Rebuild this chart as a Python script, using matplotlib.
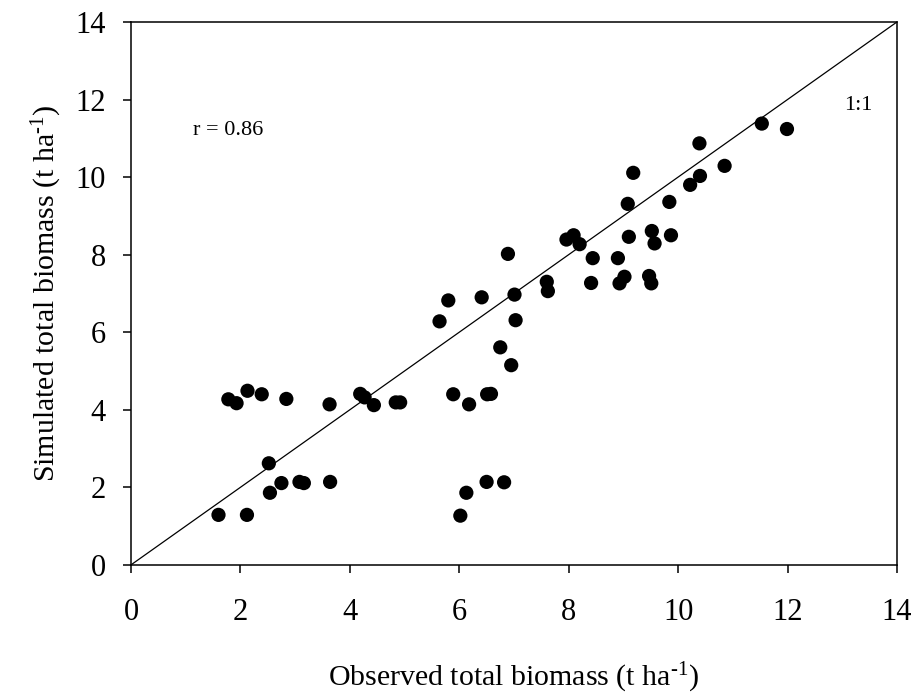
import matplotlib
matplotlib.use("Agg")
import matplotlib.pyplot as plt

plt.rcParams['font.family'] = ['Liberation Serif', 'DejaVu Serif']
plt.rcParams['mathtext.fontset'] = 'custom'
plt.rcParams['mathtext.rm'] = 'Liberation Serif'
plt.rcParams['mathtext.default'] = 'regular'
plt.rcParams['axes.unicode_minus'] = False

observed = [1.60, 2.12, 2.54, 2.52, 2.75, 3.08, 3.16, 3.64, 1.78, 1.93,
            2.13, 2.39, 2.84, 3.63, 4.19, 4.27, 4.44, 4.84, 4.92, 5.89,
            6.18, 6.51, 6.58, 6.75, 6.95, 5.64, 5.80, 6.41, 7.01, 7.03,
            6.89, 7.60, 7.62, 6.02, 6.13, 6.50, 6.82, 10.39, 10.85, 10.40,
            10.22, 9.18, 9.08, 9.84, 9.10, 9.52, 9.57, 9.87, 7.96, 8.09,
            8.20, 8.44, 8.90, 8.41, 8.93, 9.02, 9.47, 9.51, 11.53, 11.99]
simulated = [1.29, 1.29, 1.86, 2.62, 2.11, 2.14, 2.11, 2.14, 4.27, 4.17,
             4.49, 4.40, 4.28, 4.14, 4.41, 4.32, 4.12, 4.19, 4.19, 4.40,
             4.14, 4.40, 4.41, 5.61, 5.15, 6.28, 6.82, 6.90, 6.97, 6.31,
             8.02, 7.30, 7.06, 1.27, 1.86, 2.14, 2.13, 10.87, 10.29, 10.03,
             9.80, 10.11, 9.31, 9.36, 8.46, 8.61, 8.29, 8.50, 8.39, 8.50,
             8.27, 7.91, 7.91, 7.27, 7.26, 7.43, 7.45, 7.26, 11.38, 11.24]
ticks = [0, 2, 4, 6, 8, 10, 12, 14]
one_to_one = [0, 14]

fig = plt.figure(figsize=(9.19, 7.0), dpi=100)
ax = fig.add_axes([0.1425, 0.193, 0.8335, 0.7756])

ax.plot(one_to_one, one_to_one, color='black', linewidth=0.9, zorder=1)
ax.scatter(observed, simulated, s=105, color='black', edgecolors='none', zorder=3)

ax.set_xlim(0, 14)
ax.set_ylim(0, 14)
ax.set_xticks(ticks)
ax.set_yticks(ticks)
for sp in ax.spines.values():
    sp.set_linewidth(1.1)
ax.tick_params(axis='x', direction='out', length=6, width=1.1, labelsize=22, pad=18)
ax.tick_params(axis='y', direction='out', length=6, width=1.1, labelsize=22, pad=12)

ax.set_xlabel(r'Observed total biomass (t ha$^{\text{-}1}$)', fontsize=21.5, labelpad=24)
ax.set_ylabel(r'Simulated total biomass (t ha$^{\text{-}1}$)', fontsize=21.5, labelpad=8)

ax.text(1.77, 11.2, 'r = 0.86', fontsize=16, ha='center', va='center')
ax.text(13.3, 11.85, '1:1', fontsize=16, ha='center', va='center')

fig.savefig('out.png', dpi=100)
